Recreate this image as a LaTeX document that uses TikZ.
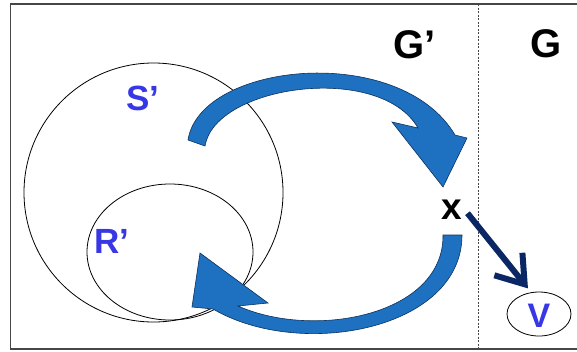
\documentclass[tikz,border=0pt]{standalone}
\usepackage{fontspec}
\setmainfont{Liberation Sans}
\usetikzlibrary{arrows.meta,shapes.geometric}
\definecolor{lblue}{RGB}{55,55,230}
\definecolor{arrowfill}{RGB}{30,112,192}
\definecolor{arrowedge}{RGB}{12,50,95}
\definecolor{navy}{RGB}{10,38,100}
\definecolor{framegray}{RGB}{70,70,70}
\tikzset{
  setline/.style={draw=black, line width=0.8pt, ellipse, inner sep=0pt},
  biglabel/.style={font=\fontsize{40}{40}\selectfont\bfseries, text=black, inner sep=0pt},
  setlabel/.style={font=\fontsize{35}{35}\selectfont\bfseries, text=lblue, inner sep=0pt},
  bluearrow/.style={fill=arrowfill, draw=arrowedge, line width=0.6pt, line join=miter},
  framebox/.style={draw=framegray, line width=1.6pt},
  divider/.style={draw=framegray, line width=1pt, dash pattern=on 2pt off 1.5pt},
}
\begin{document}
\begin{tikzpicture}[x=1pt,y=-1pt]
\useasboundingbox (0,0) rectangle (577,351);
\fill[white] (0,0) rectangle (577,351);
% frame
\draw[framebox] (577,4) -- (10.5,4) -- (10.5,349) -- (577,349);
% divider
\draw[divider] (478,4) -- (478,349);
% sets
\node[setline, minimum width=259pt, minimum height=259pt] (Sset) at (153.5,192.5) {};
\node[setline, minimum width=166pt, minimum height=136pt] (Rset) at (170,252) {};
% labels
\node[biglabel, anchor=base west] (Gp) at (393,58) {G’};
\node[biglabel, anchor=base west] (G) at (530,57) {G};
\node[setlabel, anchor=base west] (Sl) at (126,110) {S’};
\node[setlabel, anchor=base west] (Rl) at (94,253) {R’};
\node[font=\fontsize{37}{37}\selectfont\bfseries, inner sep=0pt, anchor=base] (x) at (452,219) {x};
\node[draw=black, line width=0.8pt, ellipse, minimum width=64pt, minimum height=44pt, inner sep=0pt] (V) at (539,314) {};
\node[font=\fontsize{34}{34}\selectfont\bfseries, text=lblue, inner sep=0pt, anchor=base] (Vl) at (539,327) {V};
% top curved arrow (S' -> x)
\path[bluearrow] (205,146) .. controls (215,85) and (380,62) .. (418,128)
  -- (392,122) -- (443,187) -- (467,138) -- (455,135)
  .. controls (400,42) and (200,62) .. (188,140) -- cycle;
% bottom curved arrow (x -> R')
\path[bluearrow] (443,235) .. controls (444,315) and (315,340) .. (238,306)
  -- (268,303) -- (200,253) -- (192,307) -- (213,309)
  .. controls (300,360) and (462,330) .. (462,235) -- cycle;
% x -> V
\draw[navy, line width=6pt, -{Straight Barb[length=26pt, width=36pt]}, shorten >=5pt]
  (x.south east) ++(5,-6) -- (V.110);
\end{tikzpicture}
\end{document}
